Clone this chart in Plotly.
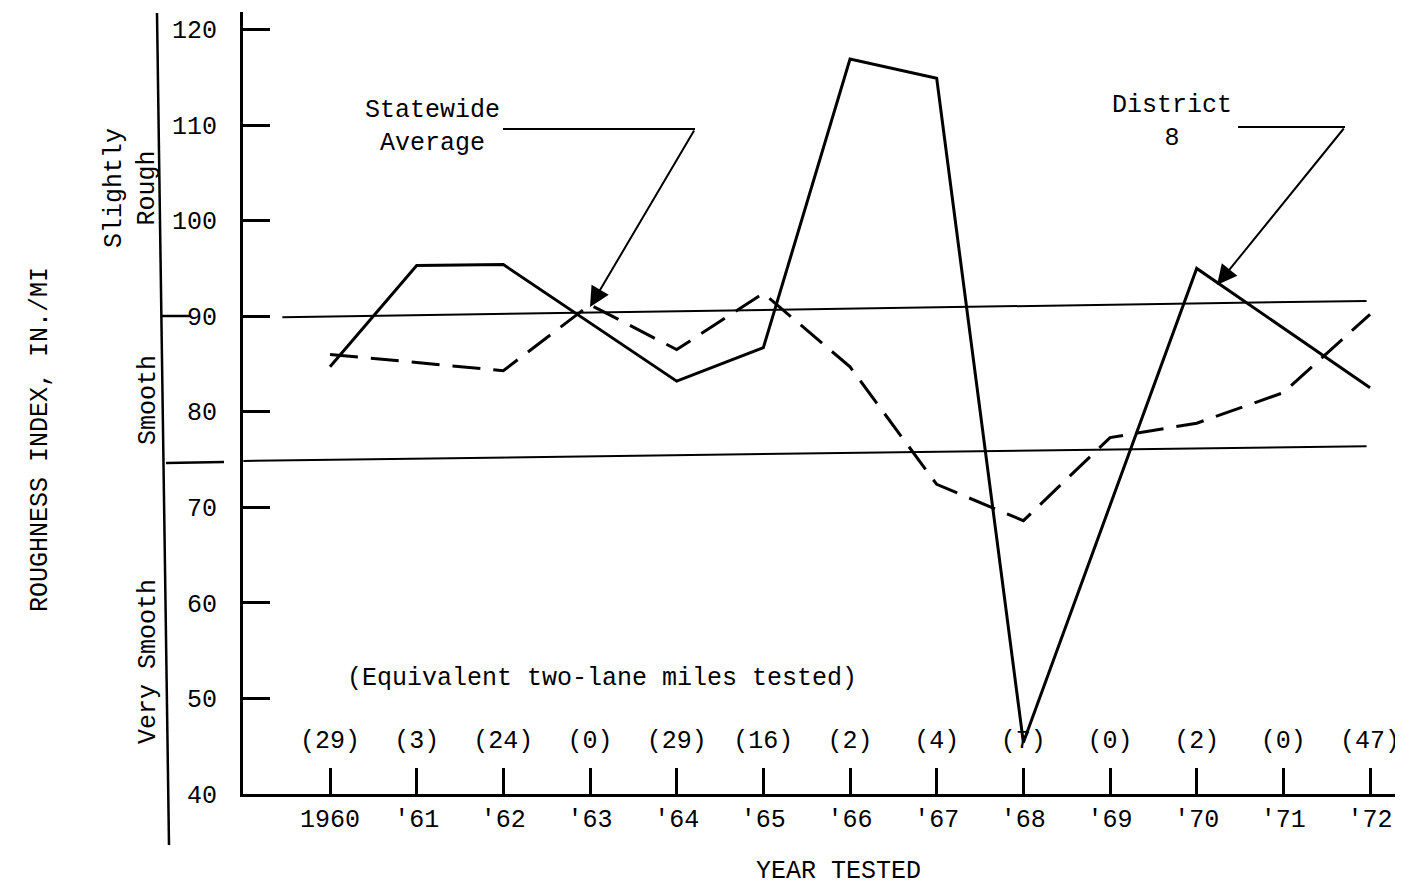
import plotly.graph_objects as go

# ---- data ----
YEARS = [1960, 1961, 1962, 1963, 1964, 1965, 1966, 1967, 1968, 1969, 1970, 1971, 1972]
TICK_TEXT = ["1960", "'61", "'62", "'63", "'64", "'65", "'66", "'67", "'68", "'69", "'70", "'71", "'72"]
DISTRICT_8 = [84.7, 95.3, 95.4, None, 83.2, 86.7, 116.9, 114.9, 45.4, None, 95.0, None, 82.5]
STATEWIDE = [86.0, None, 84.3, 91.2, 86.5, 92.4, 84.7, 72.4, 68.6, 77.3, 78.8, 82.0, 90.2]
MILES_TESTED = ["(29)", "(3)", "(24)", "(0)", "(29)", "(16)", "(2)", "(4)", "(7)", "(0)", "(2)", "(0)", "(47)"]
Y_TICKS = [40, 50, 60, 70, 80, 90, 100, 110, 120]
# class boundary lines (as drawn, slightly tilted in the scan)
UPPER_BOUND_X = [1959.45, 1971.96]
UPPER_BOUND_Y = [89.9, 91.6]
LOWER_BOUND_X = [1959.0, 1971.96]
LOWER_BOUND_Y = [74.85, 76.4]

FONT = "Liberation Mono"
FS = 25

fig = go.Figure()

fig.add_trace(go.Scatter(x=UPPER_BOUND_X, y=UPPER_BOUND_Y, mode="lines",
                         line=dict(color="black", width=2), hoverinfo="skip"))
fig.add_trace(go.Scatter(x=LOWER_BOUND_X, y=LOWER_BOUND_Y, mode="lines",
                         line=dict(color="black", width=2), hoverinfo="skip"))

fig.add_trace(go.Scatter(x=YEARS, y=STATEWIDE, mode="lines", connectgaps=True,
                         name="Statewide Average",
                         line=dict(color="black", width=3, dash="28px,13px")))
fig.add_trace(go.Scatter(x=YEARS, y=DISTRICT_8, mode="lines", connectgaps=True,
                         name="District 8",
                         line=dict(color="black", width=3)))

fig.add_trace(go.Scatter(x=YEARS, y=[45.5] * len(YEARS), mode="text", text=MILES_TESTED,
                         textfont=dict(family=FONT, size=FS, color="black"),
                         hoverinfo="skip"))

fig.update_xaxes(range=[1958.996, 1972.288], tickvals=YEARS, ticktext=TICK_TEXT,
                 ticks="inside", ticklen=26, tickwidth=3, tickcolor="black",
                 showline=True, linecolor="black", linewidth=3,
                 showgrid=False, zeroline=False,
                 tickfont=dict(family=FONT, size=FS, color="black"),
                 ticklabelstandoff=0)
fig.update_yaxes(range=[40, 121.83], tickvals=Y_TICKS,
                 ticks="inside", ticklen=27, tickwidth=3, tickcolor="black",
                 showline=True, linecolor="black", linewidth=3,
                 showgrid=False, zeroline=False,
                 tickfont=dict(family=FONT, size=FS, color="black"),
                 ticklabelstandoff=18)

# page offset (default body margin) and plot-area geometry, in page pixels
OFF = 8
FIG_W, FIG_H = 1415 - OFF, 886 - OFF
PLOT_L, PLOT_R, PLOT_T, PLOT_B = 243, 1395, 12, 794
W, H = PLOT_R - PLOT_L, PLOT_B - PLOT_T


def px(x):
    return (x - PLOT_L) / W


def py(y):
    return (PLOT_B - y) / H


shapes = [
    dict(type="line", xref="paper", yref="paper", x0=px(157), y0=py(13), x1=px(169), y1=py(845),
         line=dict(color="black", width=2.5)),
    dict(type="line", xref="paper", yref="paper", x0=px(162), y0=py(316), x1=px(190), y1=py(316),
         line=dict(color="black", width=2.5)),
    dict(type="line", xref="paper", yref="paper", x0=px(166), y0=py(463), x1=px(224), y1=py(462),
         line=dict(color="black", width=2.5)),
    dict(type="line", xref="paper", yref="paper", x0=px(503), y0=py(129), x1=px(695), y1=py(129),
         line=dict(color="black", width=2)),
    dict(type="line", xref="paper", yref="paper", x0=px(1238), y0=py(127), x1=px(1345), y1=py(127),
         line=dict(color="black", width=2)),
]

tf = dict(family=FONT, size=FS, color="black")


def label(text, x, y, angle=0):
    return dict(text=text, xref="paper", yref="paper", x=px(x), y=py(y),
                xanchor="center", yanchor="middle", textangle=angle,
                showarrow=False, font=tf)


annotations = [
    label("ROUGHNESS INDEX, IN./MI", 40, 440, -90),
    label("Slightly<br>Rough", 131, 188, -90),
    label("Smooth", 148, 400, -90),
    label("Very Smooth", 148, 662, -90),
    label("YEAR TESTED", 838, 871),
    label("(Equivalent two-lane miles tested)", 602, 678),
    label("Statewide<br>Average", 432, 127),
    label("District<br>8", 1172, 122),
    dict(text="", xref="paper", yref="paper", x=px(590), y=py(307),
         ax=695 - 590, ay=129 - 307, showarrow=True, arrowhead=2, arrowsize=2,
         arrowwidth=2, arrowcolor="black", standoff=0),
    dict(text="", xref="paper", yref="paper", x=px(1217), y=py(285),
         ax=1345 - 1217, ay=127 - 285, showarrow=True, arrowhead=2, arrowsize=2,
         arrowwidth=2, arrowcolor="black", standoff=0),
]

fig.update_layout(width=FIG_W, height=FIG_H, autosize=False,
                  margin=dict(l=PLOT_L - OFF, r=FIG_W - (PLOT_R - OFF),
                              t=PLOT_T - OFF, b=FIG_H - (PLOT_B - OFF), pad=0),
                  plot_bgcolor="white", paper_bgcolor="white",
                  showlegend=False, shapes=shapes, annotations=annotations,
                  font=tf)

fig.write_html("out.html")
